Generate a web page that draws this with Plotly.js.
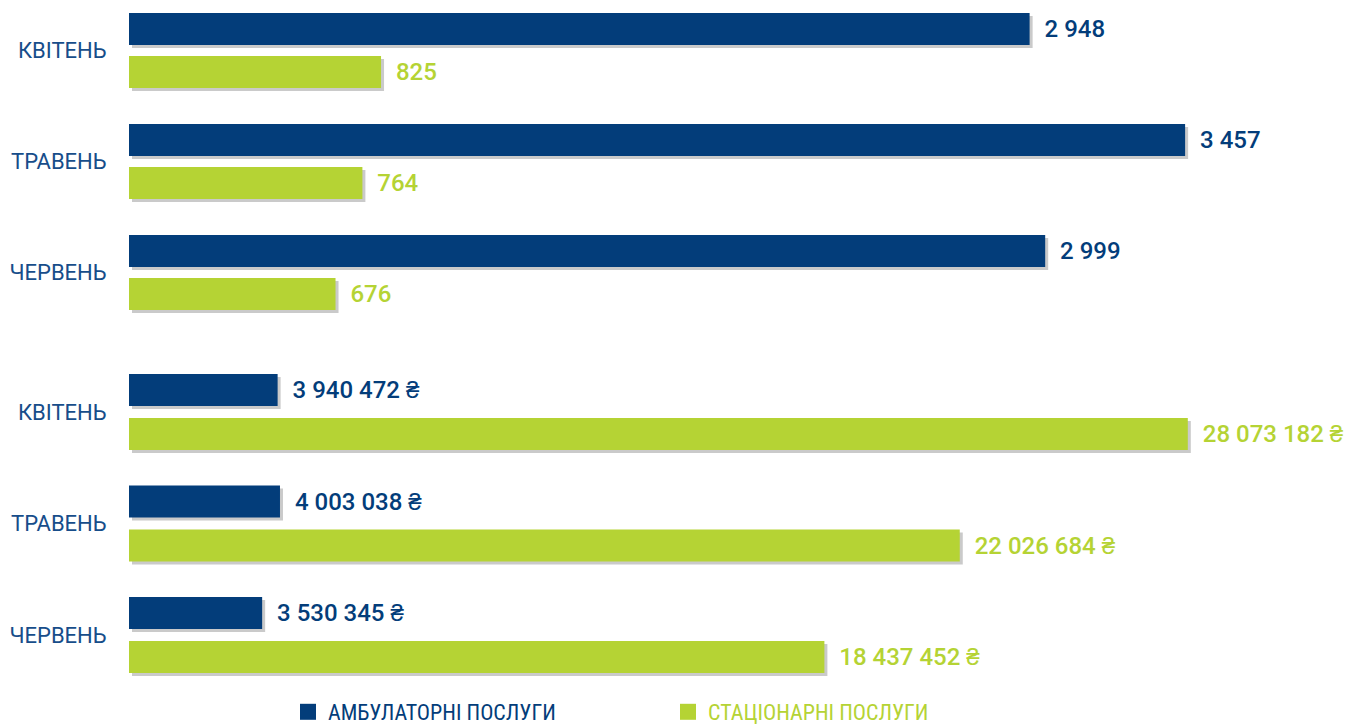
<!DOCTYPE html>
<html>
<head>
<meta charset="utf-8">
<script src="https://cdn.plot.ly/plotly-3.0.1.min.js"></script>
<style>html,body{margin:0;padding:0;background:#fff;}#chart{width:1351px;height:725px;}</style>
</head>
<body>
<div id="chart"></div>
<script>
const months = ['КВІТЕНЬ', 'ТРАВЕНЬ', 'ЧЕРВЕНЬ'];
const outpatientCount = [2948, 3457, 2999];
const inpatientCount = [825, 764, 676];
const outpatientUAH = [3940472, 4003038, 3530345];
const inpatientUAH = [28073182, 22026684, 18437452];
const seriesNames = ['АМБУЛАТОРНІ ПОСЛУГИ', 'СТАЦІОНАРНІ ПОСЛУГИ'];

const BLUE = '#033d7a';
const GREEN = '#b5d334';
const SHADOW = 'rgba(150,150,150,0.5)';
const LABEL = '#174d8a';

const NB = '\u00a0';
function fmt(v) { return String(v).replace(/\B(?=(\d{3})+(?!\d))/g, NB); }

const plotW = 1222;
const topRange = 4000, botRange = 32400000;
const topPx = plotW / topRange, botPx = plotW / botRange;

// geometry in category units
const topW = 32 / 111, botW = 32 / 111.5;
const topOff = [-21.5 / 111 - topW / 2, 21.5 / 111 - topW / 2];
const botOff = [-22 / 111.5 - botW / 2, 22 / 111.5 - botW / 2];

function barPair(vals, color, xa, ya, off, w, pxPerUnit, dyUnits, suffix) {
  const shadow = {
    type: 'bar', orientation: 'h', x: vals, y: months, base: 3 / pxPerUnit,
    offset: off + dyUnits, width: w, xaxis: xa, yaxis: ya,
    marker: {color: SHADOW}, showlegend: false, hoverinfo: 'skip'
  };
  const main = {
    type: 'bar', orientation: 'h', x: vals, y: months,
    offset: off, width: w, xaxis: xa, yaxis: ya,
    marker: {color: color}, showlegend: false,
    text: vals.map(v => NB + NB + fmt(v) + suffix),
    textposition: 'outside', cliponaxis: false, constraintext: 'none',
    textfont: {family: 'Roboto, sans-serif', size: 24, weight: 500, color: color},
    hoverinfo: 'x+y'
  };
  return [shadow, main];
}

const traces = [].concat(
  barPair(outpatientCount, BLUE, 'x', 'y', topOff[0], topW, topPx, 3 / 111, ''),
  barPair(inpatientCount, GREEN, 'x', 'y', topOff[1], topW, topPx, 3 / 111, ''),
  barPair(outpatientUAH, BLUE, 'x2', 'y2', botOff[0], botW, botPx, 3 / 111.5, NB + '₴'),
  barPair(inpatientUAH, GREEN, 'x2', 'y2', botOff[1], botW, botPx, 3 / 111.5, NB + '₴'),
  [
    {type: 'scatter', mode: 'markers', x: [null], y: [null], xaxis: 'x', yaxis: 'y',
     name: seriesNames[0], marker: {symbol: 'square', size: 16, color: BLUE}},
    {type: 'scatter', mode: 'markers', x: [null], y: [null], xaxis: 'x', yaxis: 'y',
     name: '<span style="color:' + GREEN + '">' + seriesNames[1] + '</span>',
     marker: {symbol: 'square', size: 16, color: GREEN}}
  ]
);

const yCommon = {
  type: 'category', categoryorder: 'array', categoryarray: months,
  showgrid: false, zeroline: false, showline: false,
  ticks: 'outside', ticklen: 17, tickcolor: 'rgba(0,0,0,0)',
  tickfont: {family: 'Roboto, sans-serif', size: 22, color: LABEL},
  fixedrange: true
};
const xCommon = {showgrid: false, zeroline: false, showline: false, showticklabels: false, ticks: '', fixedrange: true};

const layout = {
  width: 1351, height: 725,
  margin: {l: 129, r: 0, t: 0, b: 40, pad: 0, autoexpand: false},
  paper_bgcolor: '#ffffff', plot_bgcolor: '#ffffff',
  barmode: 'overlay',
  showlegend: true,
  legend: {
    orientation: 'h', x: (288 - 129) / plotW, xanchor: 'left', y: -27 / 685, yanchor: 'middle',
    entrywidth: 335, entrywidthmode: 'pixels',
    font: {family: '"Roboto Condensed", "DejaVu Sans Condensed", "Liberation Sans Narrow", Roboto, sans-serif', size: 22, color: BLUE},
    bgcolor: 'rgba(0,0,0,0)'
  },
  xaxis: Object.assign({}, xCommon, {domain: [0, 1], anchor: 'y', range: [0, topRange]}),
  xaxis2: Object.assign({}, xCommon, {domain: [0, 1], anchor: 'y2', range: [0, botRange]}),
  yaxis: Object.assign({}, yCommon, {domain: [355 / 685, 1], anchor: 'x', range: [2.518, -0.455]}),
  yaxis2: Object.assign({}, yCommon, {domain: [0, 335 / 685], anchor: 'x2', range: [2.448, -0.556]})
};

Plotly.newPlot('chart', traces, layout, {displayModeBar: false, staticPlot: true});
</script>
</body>
</html>
